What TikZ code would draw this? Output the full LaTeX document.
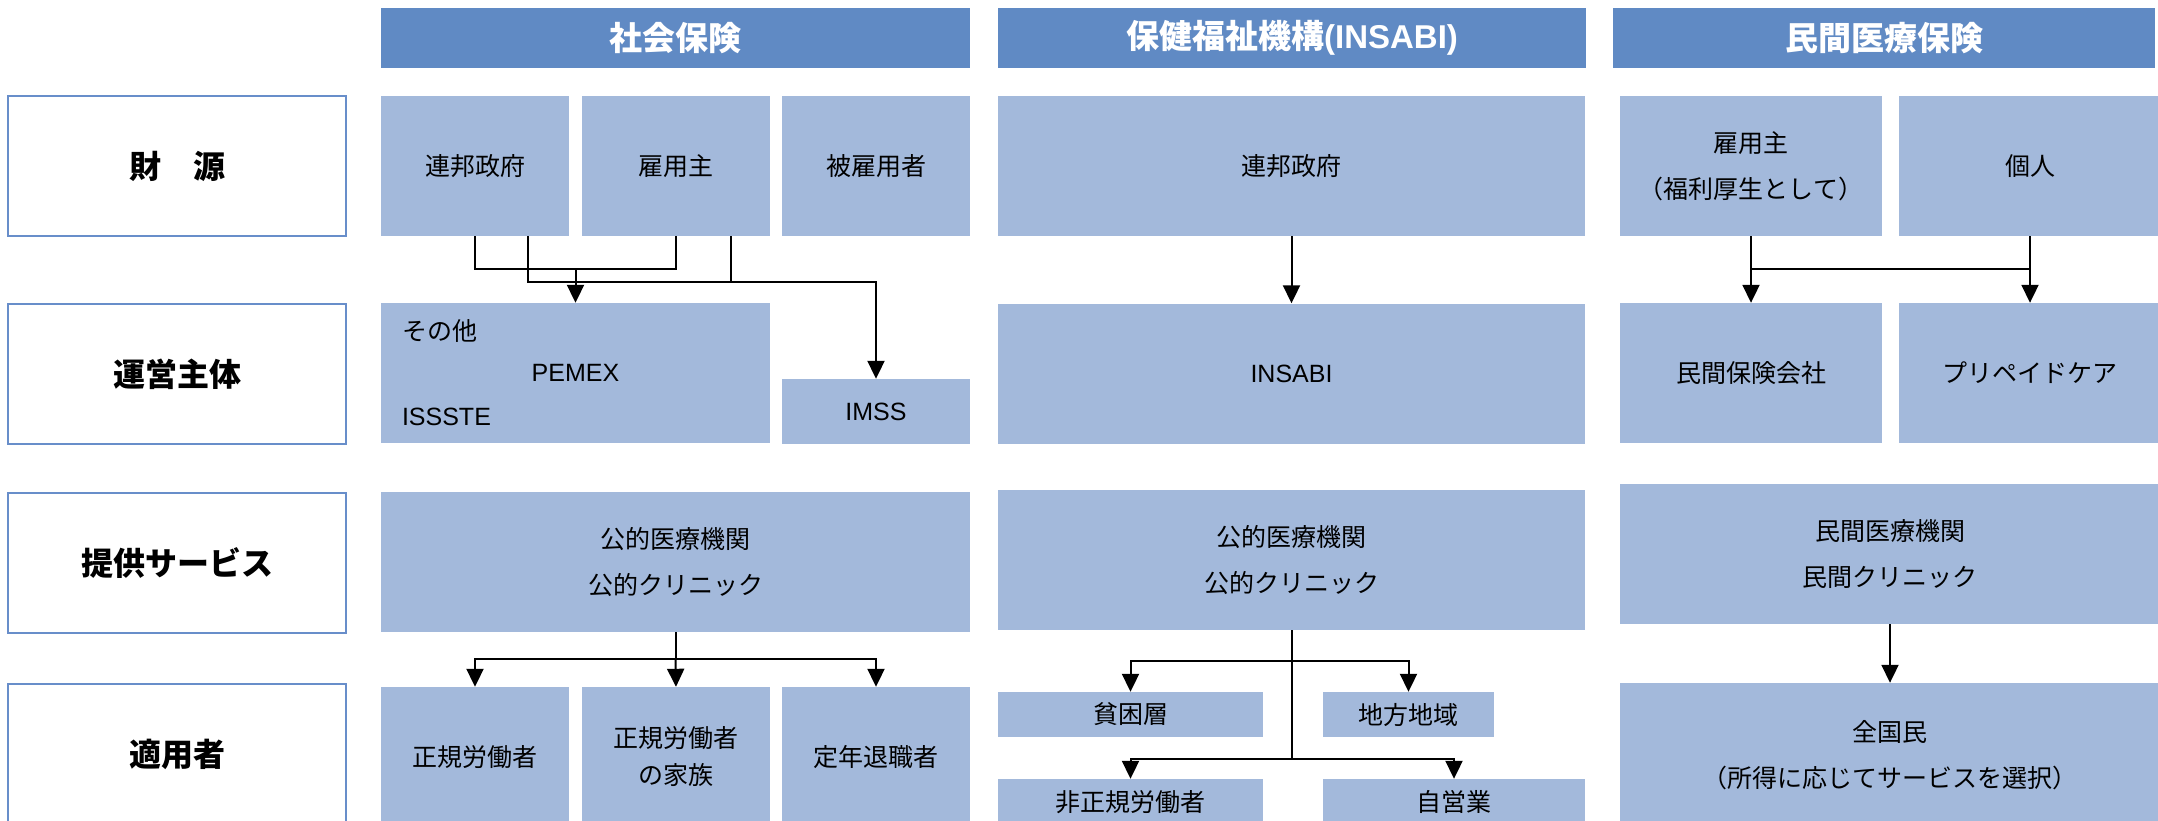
\documentclass[tikz,border=0pt]{standalone}
\usepackage{fontspec}
\setmainfont{Noto Sans CJK JP}
\newfontfamily\latin{Liberation Sans}
\usetikzlibrary{arrows.meta}

\definecolor{headblue}{RGB}{96,138,196}
\definecolor{cellblue}{RGB}{163,185,219}
\definecolor{edgeblue}{RGB}{104,142,202}

\tikzset{
  head/.style={fill=headblue, text=white, minimum height=60pt, inner sep=0pt,
    font=\bfseries\fontsize{33}{40}\selectfont},
  rowlabel/.style={draw=edgeblue, line width=2.4pt, fill=white, minimum width=338pt,
    minimum height=140pt, inner sep=0pt, font=\bfseries\fontsize{32}{40}\selectfont},
  cell/.style={fill=cellblue, inner sep=0pt, align=center, font=\fontsize{25}{46}\selectfont},
  link/.style={line width=2pt},
  arr/.style={line width=2pt, -{Triangle[width=17pt,length=18pt]}},
}

\begin{document}
\begin{tikzpicture}[x=1pt, y=-1pt]
\useasboundingbox (0,0) rectangle (2158,820);
\clip (0,0) rectangle (2158,820);

% column heads
\node[head, minimum width=589pt] (hSoc) at (675.5,38) {社会保険};
\node[head, minimum width=588pt] (hIns) at (1292,38) {保健福祉機構{\latin\bfseries (INSABI)}};
\node[head, minimum width=542pt] (hPriv) at (1884,38) {民間医療保険};

% row labels
\node[rowlabel] (lFund) at (177,166) {財　源};
\node[rowlabel] (lAdmin) at (177,374) {運営主体};
\node[rowlabel] (lServ) at (177,563) {提供サービス};
\node[rowlabel] (lUser) at (177,754) {適用者};

% social insurance
\node[cell, minimum width=188pt, minimum height=140pt] (sFed) at (475,166) {連邦政府};
\node[cell, minimum width=188pt, minimum height=140pt] (sEmp) at (676,166) {雇用主};
\node[cell, minimum width=188pt, minimum height=140pt] (sWrk) at (876,166) {被雇用者};
\node[cell, minimum width=389pt, minimum height=140pt] (sOther) at (575.5,373) {\latin PEMEX};
\node[cell, anchor=west] (tOther) at ([xshift=21pt,yshift=42pt]sOther.west) {その他};
\node[cell, anchor=west] (tIssste) at ([xshift=21pt,yshift=-44pt]sOther.west) {\latin ISSSTE};
\node[cell, minimum width=188pt, minimum height=65pt] (sImss) at (876,411.5) {\latin IMSS};
\node[cell, minimum width=589pt, minimum height=140pt] (sServ) at (675.5,562) {公的医療機関\\公的クリニック};
\node[cell, minimum width=188pt, minimum height=140pt] (sReg) at (475,757) {正規労働者};
\node[cell, minimum width=188pt, minimum height=140pt, font=\fontsize{25}{37}\selectfont] (sFam) at (676,757) {正規労働者\\の家族};
\node[cell, minimum width=188pt, minimum height=140pt] (sRet) at (876,757) {定年退職者};

\draw[link] (sFed.south) -- ++(0,33) coordinate (sBarL) -| (sEmp.south);
\draw[arr] (sBarL -| sOther.north) -- (sOther.north);
\draw[arr] ([xshift=53pt]sFed.south) -- ++(0,46) -| (sImss.north);
\draw[link] ([xshift=55pt]sEmp.south) -- ++(0,46);
\draw[link] (sServ.south) -- ++(0,27) coordinate (sJoin);
\draw[arr] (sJoin) -| (sReg.north);
\draw[arr] (sJoin) -- (sFam.north);
\draw[arr] (sJoin) -| (sRet.north);

% INSABI
\node[cell, minimum width=587pt, minimum height=140pt] (iFed) at (1291.5,166) {連邦政府};
\node[cell, minimum width=587pt, minimum height=140pt] (iAdm) at (1291.5,373.5) {\latin INSABI};
\node[cell, minimum width=587pt, minimum height=140pt] (iServ) at (1291.5,560) {公的医療機関\\公的クリニック};
\node[cell, minimum width=265pt, minimum height=45pt] (iPoor) at (1130.5,714.5) {貧困層};
\node[cell, minimum width=171pt, minimum height=45pt] (iRural) at (1408.5,714.5) {地方地域};
\node[cell, minimum width=265pt, minimum height=46pt] (iInf) at (1130.5,802) {非正規労働者};
\node[cell, minimum width=262pt, minimum height=46pt] (iSelf) at (1454,802) {自営業};

\draw[arr] (iFed) -- (iAdm);
\draw[link] (iServ.south) -- ++(0,31) coordinate (iJoinA) -- ++(0,98) coordinate (iJoinB);
\draw[arr] (iJoinA) -| (iPoor.north);
\draw[arr] (iJoinA) -| (iRural.north);
\draw[arr] (iJoinB) -| (iInf.north);
\draw[arr] (iJoinB) -| (iSelf.north);

% private insurance
\node[cell, minimum width=262pt, minimum height=140pt] (pEmp) at (1751,166) {雇用主\\（福利厚生として）};
\node[cell, minimum width=262pt, minimum height=140pt] (pInd) at (2030,166) {個人};
\node[cell, minimum width=262pt, minimum height=140pt] (pIns) at (1751,373) {民間保険会社};
\node[cell, minimum width=262pt, minimum height=140pt] (pPre) at (2030,373) {プリペイドケア};
\node[cell, minimum width=540pt, minimum height=140pt] (pServ) at (1890,554) {民間医療機関\\民間クリニック};
\node[cell, minimum width=540pt, minimum height=144pt] (pAll) at (1890,755) {全国民\\（所得に応じてサービスを選択）};

\draw[arr] (pEmp) -- (pIns);
\draw[arr] (pInd) -- (pPre);
\draw[link] ([yshift=-33pt]pEmp.south) -- ([yshift=-33pt]pInd.south);
\draw[arr] (pServ) -- (pAll);
\end{tikzpicture}
\end{document}
